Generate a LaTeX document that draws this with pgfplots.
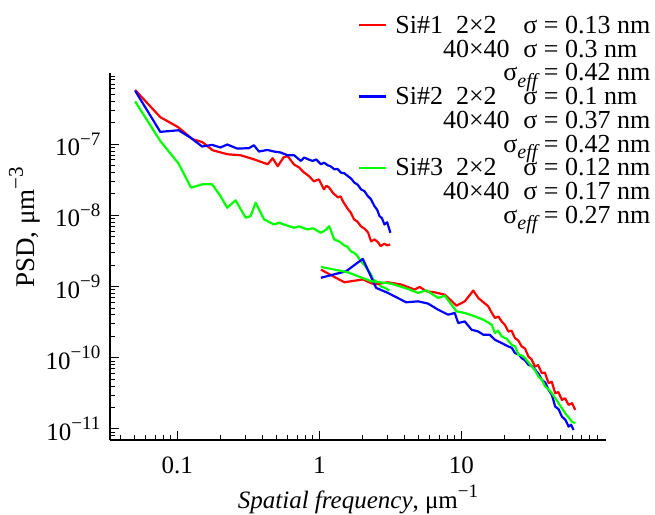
\documentclass[border=0pt]{standalone}
\usepackage{fontspec}
\setmainfont{Liberation Serif}
\usepackage{pgfplots}
\pgfplotsset{compat=1.18}
\definecolor{cred}{RGB}{255,0,0}
\definecolor{cblue}{RGB}{0,0,255}
\definecolor{cgreen}{RGB}{0,255,0}
\newcommand{\sps}[2][19]{\raisebox{0.42em}{\fontsize{#1}{#1}\selectfont #2}}
\newcommand{\seff}{σ\raisebox{-0.24em}{\fontsize{20}{20}\selectfont\itshape eff}}
\begin{document}
\fontsize{25}{25}\selectfont
\begin{tikzpicture}
\path[use as bounding box] (-110pt,-74pt) rectangle (545pt,440pt);
\begin{axis}[
  xmode=log, ymode=log,
  scale only axis, width=496pt, height=367pt,
  xmin=0.0336, xmax=104, ymin=7e-12, ymax=1e-6,
  axis lines*=left,
  axis line style={line width=1.4pt},
  tick align=inside,
  major tick length=9pt, minor tick length=5pt,
  every tick/.style={black, line width=1pt},
  xtick={0.1,1,10}, xticklabels={0.1,1,10},
  ytick={1e-11,1e-10,1e-9,1e-8,1e-7},
  yticklabels={10\sps{−11},10\sps{−10},10\sps{−9},10\sps{−8},10\sps{−7}},
  minor xtick={0.04,0.05,0.06,0.07,0.08,0.09,0.2,0.3,0.4,0.5,0.6,0.7,0.8,0.9,2,3,4,5,6,7,8,9,20,30,40,50,60,70,80,90},
  minor ytick={8e-12,9e-12,2e-11,3e-11,4e-11,5e-11,6e-11,7e-11,8e-11,9e-11,2e-10,3e-10,4e-10,5e-10,6e-10,7e-10,8e-10,9e-10,2e-9,3e-9,4e-9,5e-9,6e-9,7e-9,8e-9,9e-9,2e-8,3e-8,4e-8,5e-8,6e-8,7e-8,8e-8,9e-8,2e-7,3e-7,4e-7,5e-7,6e-7,7e-7,8e-7,9e-7},
  xticklabel style={yshift=-8pt},
  yticklabel style={xshift=-1pt},
  xlabel={\textit{Spatial frequency}, μm\sps{−1}},
  xlabel style={at={(axis description cs:0.5,0)}, yshift=-68pt, anchor=base},
  ylabel={PSD, μm\sps[21]{−3}},
  ylabel style={at={(axis description cs:-0.1726,0.58)}, anchor=center, font=\fontsize{27}{27}\selectfont},
  legend style={at={(axis description cs:0.5,1.155)}, anchor=north west, draw=none, fill=none,
    inner sep=0pt, row sep=0pt, /tikz/column sep=0pt, font=\fontsize{26}{26}\selectfont,
    nodes={inner sep=0pt, text height=17pt, text depth=6.75pt}},
  legend cell align=left,
  legend image code/.code={\draw[#1] (0pt,3pt) -- (27pt,3pt); \path (35pt,0pt);},
  every axis plot/.append style={line width=2.2pt, line join=round},
]
\addplot[cred] coordinates {(0.0505,5.77e-7) (0.0759,2.40e-7) (0.1016,1.73e-7) (0.1276,1.18e-7) (0.150,1.07e-7) (0.177,8.23e-8) (0.2255,7.22e-8) (0.2786,7.00e-8) (0.3443,6.15e-8) (0.4325,5.23e-8) (0.469,6.35e-8) (0.509,4.90e-8) (0.561,6.56e-8) (0.599,6.78e-8) (0.660,5.23e-8) (0.72,4.7e-8) (0.777,4.03e-8) (0.84,3.6e-8) (0.914,3.01e-8) (0.992,3.21e-8) (1.076,2.32e-8) (1.12,2.6e-8) (1.167,2.48e-8) (1.25,2.05e-8) (1.352,1.79e-8) (1.41,1.85e-8) (1.466,1.57e-8) (1.590,1.22e-8) (1.66,1.1e-8) (1.753,8.79e-9) (1.85,8.2e-9) (1.964,7.00e-9) (2.08,6.5e-9) (2.20,5.77e-9) (2.31,4.31e-9) (2.45,4.6e-9) (2.59,4.17e-9) (2.7,3.7e-9) (2.86,4.0e-9) (3.0,3.8e-9) (3.15,3.9e-9)};
\addlegendentry{\makebox[48pt][l]{Si\#1}\makebox[66pt][c]{2×2}\makebox[28pt][r]{σ} = 0.13 nm}
\addlegendimage{empty legend}
\addlegendentry{\makebox[48pt]{}\makebox[66pt][c]{40×40}\makebox[28pt][r]{σ} = 0.3 nm}
\addlegendimage{empty legend}
\addlegendentry{\makebox[48pt]{}\makebox[66pt]{}\makebox[28pt][r]{\seff} = 0.42 nm}
\addplot[cblue] coordinates {(0.0505,5.64e-7) (0.0759,1.49e-7) (0.1021,1.57e-7) (0.1236,1.24e-7) (0.1496,9.28e-8) (0.1758,9.78e-8) (0.2013,8.99e-8) (0.2245,9.9e-8) (0.2642,8.69e-8) (0.319,8.78e-8) (0.346,9.68e-8) (0.3755,7.89e-8) (0.4305,8.31e-8) (0.4796,7.89e-8) (0.5346,7.64e-8) (0.596,7.0e-8) (0.6635,7.0e-8) (0.74,5.82e-8) (0.781,6.5e-8) (0.84,6.1e-8) (0.895,5.82e-8) (0.95,6.1e-8) (1.025,5.23e-8) (1.08,5.5e-8) (1.143,5.06e-8) (1.2,4.9e-8) (1.272,4.44e-8) (1.34,4.5e-8) (1.419,3.99e-8) (1.5,3.9e-8) (1.582,3.58e-8) (1.67,3.3e-8) (1.762,2.89e-8) (1.86,2.7e-8) (1.964,2.32e-8) (2.07,2.2e-8) (2.19,1.87e-8) (2.3,1.7e-8) (2.44,1.35e-8) (2.55,1.2e-8) (2.647,9.78e-9) (2.75,9.2e-9) (2.87,7.46e-9) (3.0,8.0e-9) (3.16,5.70e-9)};
\addlegendentry{\makebox[48pt][l]{Si\#2}\makebox[66pt][c]{2×2}\makebox[28pt][r]{σ} = 0.1 nm}
\addlegendimage{empty legend}
\addlegendentry{\makebox[48pt]{}\makebox[66pt][c]{40×40}\makebox[28pt][r]{σ} = 0.37 nm}
\addlegendimage{empty legend}
\addlegendentry{\makebox[48pt]{}\makebox[66pt]{}\makebox[28pt][r]{\seff} = 0.42 nm}
\addplot[cgreen] coordinates {(0.0505,3.99e-7) (0.0759,1.11e-7) (0.1021,5.35e-8) (0.125,2.45e-8) (0.1496,2.73e-8) (0.1758,2.73e-8) (0.2013,1.87e-8) (0.2245,1.28e-8) (0.257,1.63e-8) (0.3027,9.29e-9) (0.328,9.78e-9) (0.356,1.51e-8) (0.4076,8.79e-9) (0.4796,7.46e-9) (0.52,7.9e-9) (0.561,7.46e-9) (0.6635,6.71e-9) (0.72,7.0e-9) (0.825,6.35e-9) (0.9,6.6e-9) (1.025,5.70e-9) (1.100,6.2e-9) (1.173,7.06e-9) (1.272,4.59e-9) (1.38,4.3e-9) (1.497,3.78e-9) (1.58,3.6e-9) (1.670,3.11e-9) (1.75,3.0e-9) (1.841,2.73e-9) (1.964,2.25e-9) (2.08,2.0e-9) (2.203,1.68e-9) (2.3,1.5e-9) (2.388,1.26e-9) (2.55,1.15e-9) (2.72,1.0e-9) (2.9,9.6e-10) (3.10,8.78e-10)};
\addlegendentry{\makebox[48pt][l]{Si\#3}\makebox[66pt][c]{2×2}\makebox[28pt][r]{σ} = 0.12 nm}
\addlegendimage{empty legend}
\addlegendentry{\makebox[48pt]{}\makebox[66pt][c]{40×40}\makebox[28pt][r]{σ} = 0.17 nm}
\addlegendimage{empty legend}
\addlegendentry{\makebox[48pt]{}\makebox[66pt]{}\makebox[28pt][r]{\seff} = 0.27 nm}
\addplot[cred, forget plot] coordinates {(1.025,1.73e-9) (1.497,1.15e-9) (2.02,1.26e-9) (2.44,1.07e-9) (3.034,1.15e-9) (3.767,1.07e-9) (4.677,9.08e-10) (5.075,9.9e-10) (5.657,8.59e-10) (6.476,8.31e-10) (7.62,7.71e-10) (9.22,5.4e-10) (10.55,6.21e-10) (12.10,8.79e-10) (13.12,6.93e-10) (15.44,5.28e-10) (16.2,4.4e-10) (17.20,3.62e-10) (18.2,3.8e-10) (19.17,3.24e-10) (20.2,2.9e-10) (21.38,2.34e-10) (22.5,2.4e-10) (23.81,1.89e-10) (25.1,1.75e-10) (26.55,1.44e-10) (28,1.35e-10) (29.6,1.04e-10) (31,9.6e-11) (32.97,7.53e-11) (34.6,7.9e-11) (36.76,6.09e-11) (38.6,6.2e-11) (41.0,4.41e-11) (43.2,4.6e-11) (45.65,3.18e-11) (48,3.3e-11) (50.9,2.56e-11) (53.6,2.7e-11) (56.76,2.18e-11) (60,2.3e-11) (63.2,1.85e-11)};
\addplot[cblue, forget plot] coordinates {(1.025,1.33e-9) (1.539,1.64e-9) (2.02,2.45e-9) (2.19,1.73e-9) (2.507,9.6e-10) (3.034,8.15e-10) (4.087,6.01e-10) (4.943,6.21e-10) (5.818,5.77e-10) (6.845,4.74e-10) (8.054,4.03e-10) (8.97,4.26e-10) (9.48,3.08e-10) (10.55,3.24e-10) (11.77,2.48e-10) (13.12,2.34e-10) (14.23,2.11e-10) (15.78,2.11e-10) (17.20,1.79e-10) (19.17,1.61e-10) (21.38,1.44e-10) (22.6,1.38e-10) (23.81,1.16e-10) (25.2,1.12e-10) (26.55,9.9e-11) (28,9.2e-11) (29.6,7.96e-11) (31.2,7.7e-11) (32.97,6.78e-11) (34.8,6.0e-11) (36.76,4.9e-11) (38.8,4.5e-11) (41.0,3.54e-11) (43.3,3.0e-11) (45.65,2.06e-11) (48.2,1.9e-11) (50.9,1.49e-11) (53.8,1.35e-11) (56.76,1.08e-11) (59,1.15e-11) (61.5,9.68e-12)};
\addplot[cgreen, forget plot] coordinates {(1.025,1.89e-9) (1.582,1.59e-9) (2.31,1.19e-9) (3.2,1.10e-9) (4.2,9.28e-10) (4.943,8.15e-10) (5.657,8.87e-10) (6.845,6.93e-10) (7.62,7.46e-10) (9.22,4.49e-10) (10.55,4.26e-10) (12.42,3.82e-10) (14.23,3.43e-10) (16.29,2.92e-10) (17.2,2.23e-10) (18.1,2.4e-10) (19.17,2.0e-10) (20.8,1.85e-10) (22.56,1.52e-10) (23.8,1.45e-10) (25.16,1.10e-10) (26.5,1.08e-10) (28.01,9.9e-11) (29.6,8.6e-11) (31.24,7.53e-11) (33,6.6e-11) (34.84,5.45e-11) (36.8,4.9e-11) (38.8,3.94e-11) (41,3.6e-11) (43.25,3.18e-11) (45.7,2.7e-11) (48.24,2.30e-11) (50.9,1.95e-11) (53.7,1.66e-11) (56.8,1.45e-11) (59.9,1.27e-11) (63.2,1.20e-11)};
\end{axis}
\end{tikzpicture}
\end{document}
